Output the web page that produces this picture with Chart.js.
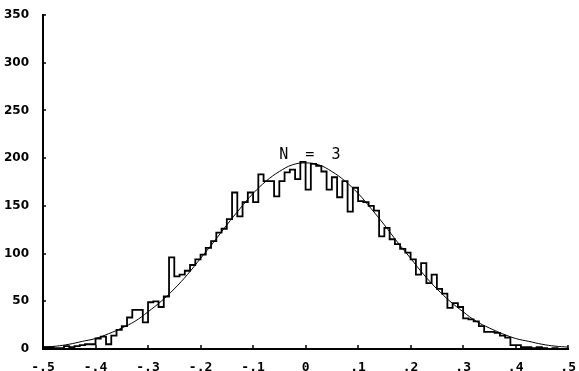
<!DOCTYPE html>
<html>
<head>
<meta charset="utf-8">
<script src="https://cdn.jsdelivr.net/npm/chart.js@4/dist/chart.umd.min.js"></script>
<style>
body { margin: 0; background: #fff; }
</style>
</head>
<body>
<canvas id="histchart" width="579" height="371"></canvas>
<script>
// histogram: 100 bins of width .01 from -.5 to .5
var binStart = -0.5;
var binWidth = 0.01;
var counts = [
    2, 2, 1, 1, 3, 2, 3, 4, 5, 5,
    11, 13, 5, 14, 20, 24, 33, 41, 41, 28,
    49, 50, 44, 55, 96, 76, 78, 82, 88, 94,
    99, 106, 113, 122, 126, 136, 164, 139, 154, 164,
    154, 183, 176, 176, 160, 176, 185, 188, 178, 196,
    167, 194, 192, 186, 167, 180, 159, 176, 144, 169,
    155, 154, 150, 145, 118, 127, 115, 110, 105, 101,
    94, 78, 90, 69, 78, 63, 58, 43, 48, 44,
    32, 31, 29, 24, 18, 18, 17, 14, 12, 4,
    4, 2, 2, 1, 2, 1, 0, 1, 0, 0
];

// smooth curve read every .025
var curveStart = -0.5;
var curveStep = 0.025;
var curveValues = [
    2, 3, 5, 8, 11, 16, 22, 29, 39, 50,
    63, 78, 95, 112, 130, 147, 163, 176, 186, 193,
    195,
    193, 186, 176, 163, 147, 130, 112, 95, 78,
    63, 50, 39, 29, 22, 16, 11, 8, 5, 3, 2
];

var xTicks = [-0.5, -0.4, -0.3, -0.2, -0.1, 0, 0.1, 0.2, 0.3, 0.4, 0.5];
var yTicks = [0, 50, 100, 150, 200, 250, 300, 350];
var noteText = "N = 3";

function xLabel(v) {
    if (Math.abs(v) < 1e-9) return "0";
    var d = Math.round(Math.abs(v) * 10);
    return (v < 0 ? "-" : "") + "." + d;
}

function GenerateHistogram() {

    var histPoints = [];
    for (var i = 0; i < counts.length; i++) {
        histPoints.push({ x: binStart + i * binWidth, y: counts[i] });
    }
    histPoints.push({ x: binStart + counts.length * binWidth, y: counts[counts.length - 1] });

    var curvePoints = [];
    for (var j = 0; j < curveValues.length; j++) {
        curvePoints.push({ x: curveStart + j * curveStep, y: curveValues[j] });
    }

    // small inside tick marks + the "N = 3" note
    var extras = {
        id: "extras",
        afterDraw: function (chart) {
            var ctx = chart.ctx;
            var xs = chart.scales.x;
            var ys = chart.scales.y;
            var area = chart.chartArea;
            ctx.save();
            ctx.strokeStyle = "#000";
            ctx.lineWidth = 1.5;
            ctx.beginPath();
            xTicks.forEach(function (v) {
                var px = Math.round(xs.getPixelForValue(v));
                ctx.moveTo(px, area.bottom);
                ctx.lineTo(px, area.bottom - 4);
            });
            yTicks.forEach(function (v) {
                var py = Math.round(ys.getPixelForValue(v));
                ctx.moveTo(area.left, py);
                ctx.lineTo(area.left + 3, py);
            });
            ctx.stroke();

            ctx.fillStyle = "#000";
            ctx.font = "15px 'DejaVu Sans Mono'";
            ctx.letterSpacing = "4px";
            ctx.textAlign = "center";
            ctx.textBaseline = "middle";
            ctx.fillText(noteText, xs.getPixelForValue(0.012), ys.getPixelForValue(203));
            ctx.restore();
        }
    };

    new Chart("histchart", {
        type: "line",
        data: {
            datasets: [{
                data: histPoints,
                borderColor: "#000",
                borderWidth: 1.8,
                stepped: true,
                pointRadius: 0,
                fill: false
            }, {
                data: curvePoints,
                borderColor: "#000",
                borderWidth: 1,
                tension: 0.4,
                pointRadius: 0,
                fill: false
            }]
        },
        plugins: [extras],
        options: {
            responsive: false,
            animation: false,
            layout: { padding: { top: 15, right: 6, left: 0, bottom: 0 } },
            plugins: {
                legend: { display: false },
                tooltip: { enabled: false }
            },
            scales: {
                x: {
                    type: "linear",
                    min: -0.5,
                    max: 0.5,
                    grid: { display: false },
                    border: { display: true, color: "#000", width: 2 },
                    afterBuildTicks: function (scale) {
                        scale.ticks = xTicks.map(function (v) { return { value: v }; });
                    },
                    afterFit: function (scale) { scale.height = 22; },
                    ticks: {
                        color: "#000",
                        padding: 3,
                        maxRotation: 0,
                        autoSkip: false,
                        font: { family: "DejaVu Sans Mono", size: 13, weight: "bold" },
                        callback: function (v) { return xLabel(v); }
                    }
                },
                y: {
                    min: 0,
                    max: 350,
                    grid: { display: false },
                    border: { display: true, color: "#000", width: 2 },
                    afterBuildTicks: function (scale) {
                        scale.ticks = yTicks.map(function (v) { return { value: v }; });
                    },
                    afterFit: function (scale) { scale.width = 43; },
                    ticks: {
                        color: "#000",
                        padding: 6,
                        font: { family: "DejaVu Sans", size: 12, weight: "bold" }
                    }
                }
            }
        }
    });

}

GenerateHistogram();
</script>
</body>
</html>
